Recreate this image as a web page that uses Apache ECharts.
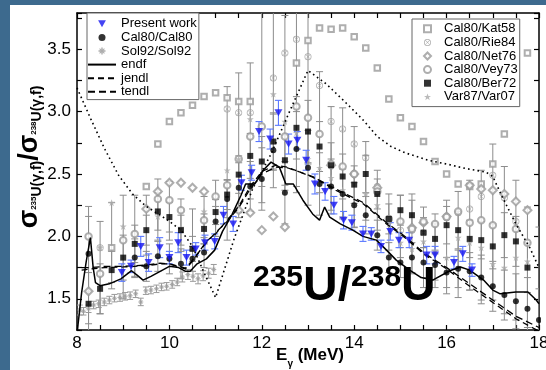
<!DOCTYPE html>
<html><head><meta charset="utf-8">
<script src="https://cdn.jsdelivr.net/npm/echarts@6/dist/echarts.min.js"></script>
<style>html,body{margin:0;padding:0;background:#ffffff;overflow:hidden}#c{width:546px;height:370px;position:absolute;left:0;top:0}</style>
</head><body><div id="c"></div>
<script>
// ---------- data ----------
var xTicks = [8, 10, 12, 14, 16, 18];
var yTicks = [1.5, 2.0, 2.5, 3.0, 3.5];

var presentE = [8.97,9.17,9.38,9.55,9.79,10.0,10.19,10.37,10.57,10.77,10.98,11.17,11.38,11.56,11.78,11.94,12.18,12.36,12.58,12.77,12.96,13.15,13.37,13.56,13.77,13.95,14.19,14.37,14.58,14.78,14.97,15.19,15.57,15.75,16.16,16.35,16.55];
var presentV = [1.71,1.76,1.92,1.79,1.91,1.83,1.95,1.83,1.90,1.95,1.96,2.17,2.10,2.43,2.51,2.84,2.78,2.99,2.74,2.77,2.61,2.42,2.36,2.25,2.13,2.11,2.02,2.02,1.92,2.04,1.97,1.97,1.85,1.85,1.79,1.86,1.73];
var presentErr = [0.07,0.05,0.08,0.07,0.08,0.05,0.08,0.06,0.05,0.06,0.06,0.07,0.06,0.06,0.06,0.08,0.08,0.10,0.08,0.07,0.08,0.08,0.07,0.07,0.07,0.06,0.06,0.05,0.05,0.07,0.06,0.06,0.07,0.07,0.05,0.06,0.05];

var cal80E = [8.25,9.25,9.5,9.75,10.0,10.25,10.5,10.75,11.0,11.25,11.5,11.75,12.0,12.25,12.5,12.75,13.0,13.25,13.5,13.75,14.0,14.25,14.5,14.75,15.0,15.25,15.5,15.75,16.0,16.25,16.5,16.75,17.0,17.25,17.5,17.75,18.0];
var cal80V = [1.86,1.83,1.76,1.84,1.82,1.78,1.82,1.87,2.12,2.30,2.39,2.40,2.46,2.69,2.35,2.70,2.55,2.42,2.40,2.34,2.25,2.17,2.01,1.83,1.79,1.83,1.79,1.77,1.71,1.74,1.72,1.67,1.60,1.53,1.48,1.42,1.33];
var cal80Err = [0.3,0.15,0.12,0.12,0.12,0.12,0.1,0.12,0.12,0.15,0.2,0.2,0.25,0.3,0.25,0.3,0.3,0.25,0.22,0.2,0.18,0.15,0.12,0.12,0.12,0.12,0.12,0.12,0.12,0.15,0.15,0.18,0.2,0.2,0.22,0.25,0.25];

var solE = [8.06,8.14,8.25,8.36,8.47,8.59,8.70,8.81,8.93,9.04,9.15,9.27,9.38,9.49,9.60,9.72,9.83,9.94,10.06,10.17,10.28,10.40,10.51,10.62,10.73,10.85,10.96];
var solV = [1.41,1.40,1.42,1.45,1.46,1.475,1.49,1.505,1.51,1.52,1.525,1.54,1.475,1.565,1.57,1.58,1.595,1.60,1.615,1.635,1.675,1.695,1.68,1.66,1.685,1.705,1.735];
var solErr = [0.04,0.03,0.03,0.03,0.03,0.03,0.03,0.03,0.03,0.03,0.03,0.03,0.03,0.03,0.03,0.03,0.03,0.03,0.03,0.03,0.04,0.04,0.04,0.04,0.04,0.04,0.04];

var endfE = [8.0,8.1,8.2,8.29,8.35,8.40,8.5,8.7,8.95,9.18,9.3,9.43,9.6,9.75,10.0,10.2,10.35,10.45,10.6,10.8,10.98,11.15,11.35,11.55,11.65,11.85,12.03,12.2,12.38,12.52,12.68,12.89,13.1,13.25,13.36,13.47,13.7,13.97,14.19,14.48,14.7,14.91,15.2,15.45,15.7,16.07,16.3,16.5,16.8,17.0,17.16,17.5,17.76,17.94,18.0];
var endfV = [1.22,1.55,1.80,1.99,1.75,1.63,1.605,1.62,1.66,1.725,1.69,1.65,1.68,1.71,1.76,1.75,1.72,1.72,1.78,1.82,1.89,2.04,2.17,2.33,2.42,2.42,2.53,2.595,2.555,2.42,2.42,2.29,2.18,2.13,2.235,2.155,2.10,2.05,2.0,1.97,1.89,1.81,1.73,1.67,1.65,1.725,1.755,1.73,1.65,1.57,1.54,1.555,1.555,1.49,1.46];

var jendlE = [8.1,8.3,8.6,9.0,9.5,9.8,10.0,10.2,10.35,10.5,10.8,11.0,11.25,11.5,11.75,12.0,12.3,12.55,13.1,13.6,14.2,14.7,15.1,15.5,16.0,16.5,17.0,17.5,18.0];
var jendlV = [1.73,1.74,1.75,1.755,1.765,1.78,1.78,1.755,1.74,1.80,1.96,2.02,2.13,2.24,2.40,2.52,2.57,2.555,2.475,2.37,2.26,2.10,1.99,1.86,1.74,1.60,1.47,1.34,1.24];
var tendlE = [8.1,8.3,8.6,9.0,9.5,9.8,10.0,10.2,10.35,10.5,10.8,11.0,11.25,11.5,11.75,12.0,12.3,12.55,13.1,13.6,14.2,14.7,15.1,15.5,16.0,16.5,17.0,17.5,18.0];
var tendlV = [1.75,1.75,1.76,1.76,1.77,1.785,1.78,1.76,1.745,1.81,1.95,2.03,2.12,2.23,2.38,2.50,2.555,2.55,2.48,2.38,2.27,2.11,2.0,1.87,1.75,1.62,1.49,1.36,1.27];

var dotE = [8.0,8.3,8.6,8.9,9.2,9.5,9.8,10.0,10.25,10.5,10.75,11.0,11.4,11.8,12.2,12.6,13.0,13.4,13.85,14.2,14.5,14.8,15.1,15.6,16.0,16.4,16.85,17.0,17.2,17.5,17.8,18.0];
var dotV = [3.19,2.94,2.70,2.49,2.34,2.24,2.17,2.12,2.05,1.92,1.71,1.51,1.98,2.38,2.66,3.00,3.33,3.22,3.06,2.93,2.80,2.72,2.67,2.61,2.58,2.545,2.515,2.48,2.32,2.10,1.91,1.75];

var katE = [8.75,9.5,9.75,10.0,10.25,10.5,10.75,11.0,11.25,11.5,11.75,12.75,13.0,13.25,13.5,13.75,14.0,14.25,14.5,14.75,15.0,15.25,15.5,15.75,16.0,16.25,16.5,16.75,17.0,17.25,17.5,17.75];
var katV = [1.91,2.40,2.74,2.92,2.99,3.05,3.12,3.15,3.11,3.08,3.08,3.39,3.57,3.67,3.66,3.67,3.60,3.51,3.35,3.10,2.95,2.88,2.76,2.60,2.50,2.42,2.40,2.42,2.58,2.82,3.08,3.47];

var rieE = [8.5,11.25,11.5,11.75,12.25,12.5,12.75,13.0,13.25,13.5,13.75,14.0,14.25,14.5,15.0,15.25,15.5,16.0,16.25,16.5,16.75,17.0,17.25,17.5];
var rieV = [1.91,3.02,2.99,2.99,3.27,3.47,3.58,3.44,3.21,2.92,2.86,2.74,2.63,2.40,2.05,2.05,2.03,2.15,2.19,2.22,2.32,2.49,2.31,2.12];

var netE = [8.25,9.5,9.75,10.0,10.25,10.5,10.75,11.5,11.75,12.0,12.25,12.5,13.5,14.0,14.5,15.25,15.5,16.0,16.5,16.75,17.0,17.25,17.5,17.75];
var netV = [1.56,2.22,2.36,2.43,2.43,2.39,2.36,2.21,2.19,2.05,2.16,2.075,2.57,2.50,2.39,2.07,2.11,2.16,2.41,2.38,2.37,2.34,2.28,2.21];

var veyE = [8.25,8.5,9.0,9.25,9.75,10.0,10.25,10.75,11.0,11.25,11.5,11.75,12.0,12.5,12.75,13.0,13.25,13.5,13.75,14.0,14.5,14.75,15.0,15.25,15.5,15.75,16.0,16.25,16.5,16.75,17.0,17.5,17.75];
var veyV = [2.00,1.70,1.97,2.02,2.30,2.29,2.21,2.13,2.32,2.41,2.62,2.80,2.88,2.80,3.04,2.95,2.82,2.58,2.56,2.50,2.36,2.14,2.12,2.06,2.12,2.10,2.155,2.20,2.11,2.13,2.09,2.06,1.95];

var berE = [8.25,8.5,8.75,9.0,9.25,9.5,9.75,10.0,10.25,10.5,10.75,11.0,11.25,11.5,11.75,12.0,12.25,12.5,12.75,13.0,13.25,13.5,13.75,14.0,14.25,14.5,14.75,15.0,15.25,15.5,15.75,16.0,16.25,16.5,16.75,17.0,17.25,17.5,17.75];
var berV = [1.46,1.58,1.73,1.83,1.94,2.05,2.20,2.155,2.05,1.90,2.06,2.195,2.335,2.495,2.645,2.60,2.76,2.61,2.87,2.84,2.72,2.57,2.48,2.415,2.50,2.34,2.14,2.21,2.17,2.03,1.98,2.09,2.05,1.98,1.97,1.92,2.01,1.96,1.75];
var berErr = [0.25,0.2,0.15,0.18,0.15,0.12,0.15,0.12,0.12,0.1,0.12,0.1,0.12,0.15,0.18,0.2,0.22,0.2,0.25,0.25,0.2,0.18,0.18,0.15,0.15,0.12,0.12,0.12,0.12,0.12,0.12,0.15,0.15,0.15,0.15,0.18,0.18,0.2,0.2];

var varE = [8.5,8.75,9.0,9.75,10.25,10.75,11.25,11.5,11.75,12.25,12.5,12.75,13.0,13.25,13.5,13.75,14.25,14.5,14.75,15.0,15.25,15.5,15.75,16.0,16.25,16.5,16.75,17.0,17.25,17.5,17.75];
var varV = [1.91,2.27,2.08,2.16,2.07,2.20,2.53,2.62,2.94,3.14,2.92,2.83,2.62,2.55,2.47,2.37,2.34,2.25,2.10,1.95,1.90,1.96,1.88,1.83,1.99,1.95,1.91,1.78,1.75,1.83,1.80];

var barE = [8.25,8.5,8.75,9.0,9.25,9.5,9.75,10.0,10.25,10.5,10.75,11.0,11.25,11.5,11.75,12.0,12.25,12.5,12.75,13.0,13.25,13.5,13.75,14.0,14.25,14.5,14.75,15.0,15.25,15.5,15.75,16.0,16.25,16.5,16.75,17.0,17.25,17.5,17.75,18.0];
var barLo = [1.30,1.38,1.63,1.50,1.67,1.85,1.97,1.97,1.88,1.89,1.94,2.00,1.97,2.15,2.30,2.27,2.53,2.37,2.35,2.58,2.35,2.21,2.155,2.075,2.13,2.05,1.89,1.83,1.70,1.59,1.59,1.54,1.51,1.57,1.46,1.49,1.38,1.33,1.27,1.22];
var barHi = [2.24,2.12,2.27,2.33,2.33,2.33,2.46,2.44,2.30,2.22,2.32,2.45,3.20,3.31,3.39,3.80,3.80,3.77,3.80,3.80,3.32,3.04,3.03,2.88,2.76,2.53,2.34,2.33,2.34,2.235,2.18,2.29,2.36,2.45,2.53,2.74,2.56,2.45,2.235,2.075];

// ---------- helpers ----------
function pairs(xs, ys){ return xs.map(function(x,i){ return [x, ys[i]]; }); }
function errs(xs, ys, es){ return xs.map(function(x,i){ return [x, ys[i]-es[i], ys[i]+es[i]]; }); }
function spans(xs, lo, hi){ return xs.map(function(x,i){ return [x, lo[i], hi[i]]; }); }
function errRender(cap, color, lw){
  return function(params, api){
    var x = api.value(0), lo = api.value(1), hi = api.value(2);
    var a = api.coord([x, hi]), b = api.coord([x, lo]);
    var st = {stroke: color, lineWidth: lw};
    return {type:'group', children:[
      {type:'line', shape:{x1:a[0],y1:a[1],x2:b[0],y2:b[1]}, style:st},
      {type:'line', shape:{x1:a[0]-cap,y1:a[1],x2:a[0]+cap,y2:a[1]}, style:st},
      {type:'line', shape:{x1:b[0]-cap,y1:b[1],x2:b[0]+cap,y2:b[1]}, style:st}
    ]};
  };
}
function errSeries(name, data, cap, color, lw){
  return {name:name, type:'custom', renderItem: errRender(cap,color,lw), data:data,
    encode:{x:0, y:[1,2]}, clip:true, silent:true, z:2};
}

var FONT = 'Liberation Sans';
var GREY = '#9a9a9a';
var FRAME_BLUE = '#3d6a8e';
var TRI = 'path://M0,0 L10,0 L5,9 Z';
var OTIMES = 'path://M10,0 A10,10 0 1,1 9.99,0 Z M10,2.2 A7.8,7.8 0 1,0 10.01,2.2 Z M4,5 L5,4 L10,9 L15,4 L16,5 L11,10 L16,15 L15,16 L10,11 L5,16 L4,15 L9,10 Z';
var STAR = 'path://M10,0 L12.4,7 L19.5,7 L13.8,11.4 L16,18.5 L10,14 L4,18.5 L6.2,11.4 L0.5,7 L7.6,7 Z';
var AST = 'path://M4,0 L6,0 L6,10 L4,10 Z M0,4 L10,4 L10,6 L0,6 Z M2,1 L9,8 L8,9 L1,2 Z M8,1 L9,2 L2,9 L1,8 Z';
var NOSYM = {color:'rgba(0,0,0,0)', borderColor:'rgba(0,0,0,0)', borderWidth:0};

function xLab(v){ return xTicks.indexOf(Math.round(v*1000)/1000) >= 0 ? String(v) : ''; }
function yLab(v){ var r = Math.round(v*1000)/1000; return yTicks.indexOf(r) >= 0 ? r.toFixed(1) : ''; }

var axisLineS = {show:true, lineStyle:{color:'#000', width:1.5}};
var tickS = {show:true, inside:true, length:5, lineStyle:{color:'#000', width:1.2}};

var chart = echarts.init(document.getElementById('c'), null, {renderer:'canvas'});
chart.setOption({
  backgroundColor: '#ffffff',
  animation: false,
  grid: {left:77, right:7, top:13, bottom:40, containLabel:false, outerBoundsMode:'none'},
  xAxis: [
    {type:'value', min:8, max:18, interval:0.5, position:'bottom',
     axisLine:axisLineS, axisTick:tickS, splitLine:{show:false},
     axisLabel:{formatter:xLab, color:'#000', fontSize:17, fontFamily:FONT, margin:5}},
    {type:'value', min:8, max:18, interval:0.5, position:'top',
     axisLine:axisLineS, axisTick:tickS, splitLine:{show:false}, axisLabel:{show:false}}
  ],
  yAxis: [
    {type:'value', min:1.25, max:3.79, interval:0.25, position:'left',
     axisLine:axisLineS, axisTick:tickS, splitLine:{show:false},
     axisLabel:{formatter:yLab, color:'#000', fontSize:17, fontFamily:FONT, margin:6}},
    {type:'value', min:1.25, max:3.79, interval:0.25, position:'right',
     axisLine:axisLineS, axisTick:tickS, splitLine:{show:false}, axisLabel:{show:false}}
  ],
  legend: [
    {data:['Present work','Cal80/Cal80','Sol92/Sol92',
           {name:'endf', itemStyle:NOSYM},{name:'jendl', itemStyle:NOSYM},{name:'tendl', itemStyle:NOSYM}],
     orient:'vertical', left:87, top:13, itemWidth:28, itemHeight:7, itemGap:0,
     padding:[4,2,1,0], borderColor:'#666', borderWidth:1, backgroundColor:'#fff',
     selectedMode:false,
     textStyle:{fontSize:13, fontFamily:FONT, color:'#000', lineHeight:13.6}},
    {data:['Cal80/Kat58','Cal80/Rie84','Cal80/Net76','Cal80/Vey73','Cal80/Ber72','Var87/Var07'],
     orient:'vertical', left:412, top:19, itemWidth:7, itemHeight:7, itemGap:0,
     padding:[3,2,3,11], borderColor:'#666', borderWidth:1, backgroundColor:'#fff',
     selectedMode:false,
     textStyle:{fontSize:13, fontFamily:FONT, color:'#000', lineHeight:13.6, padding:[0,0,0,8]}}
  ],
  graphic: [
    {type:'rect', z:-10, silent:true, shape:{x:0, y:0, width:10, height:370}, style:{fill:FRAME_BLUE}},
    {type:'rect', z:-10, silent:true, shape:{x:0, y:0, width:546, height:5}, style:{fill:FRAME_BLUE}},
    {type:'rect', z:50, silent:true, shape:{x:541, y:5, width:5, height:322}, style:{fill:'#ffffff'}},
    {type:'text', x:30, y:157, rotation:Math.PI/2, silent:true,
     style:{text:'{s|σ}{a|235}{b|U(γ,f)}{s|/σ}{a|238}{b|U(γ,f)}', align:'center', verticalAlign:'middle',
       rich:{
         s:{fontSize:27, fontWeight:'bold', fontFamily:FONT, fill:'#000', lineHeight:28},
         a:{fontSize:8, fontWeight:'bold', fontFamily:FONT, fill:'#000', verticalAlign:'bottom', lineHeight:8, padding:[0,0,6,0]},
         b:{fontSize:14, fontWeight:'bold', fontFamily:FONT, fill:'#000', verticalAlign:'bottom', lineHeight:14}
       }}},
    {type:'text', x:310, y:355, silent:true,
     style:{text:'{e|E}{g|γ}{e| (MeV)}', align:'center', verticalAlign:'middle',
       rich:{
         e:{fontSize:17, fontWeight:'bold', fontFamily:FONT, fill:'#000', lineHeight:20},
         g:{fontSize:10, fontWeight:'bold', fontFamily:FONT, fill:'#000', verticalAlign:'bottom', lineHeight:10, padding:[0,0,-4,0]}
       }}},
    {type:'text', x:253, y:263, z:100, silent:true,
     style:{text:'{a|235}{b|U/}{a|238}{b|U}', align:'left', verticalAlign:'top',
       rich:{
         a:{fontSize:30, fontWeight:'bold', fontFamily:FONT, fill:'#000', verticalAlign:'top', lineHeight:30},
         b:{fontSize:48, fontWeight:'bold', fontFamily:FONT, fill:'#000', verticalAlign:'top', lineHeight:44}
       }}}
  ],
  series: [
    errSeries('barsOuter', spans(barE, barLo, barHi), 3.5, '#8c8c8c', 1),
    errSeries('barsBer', errs(berE, berV, berErr), 3.5, '#8c8c8c', 1),
    errSeries('barsCal', errs(cal80E, cal80V, cal80Err), 3.5, '#8c8c8c', 1),
    errSeries('barsSol', errs(solE, solV, solErr), 3, '#9a9a9a', 1),
    {name:'Cal80/Kat58', type:'scatter', symbol:'emptyRect', symbolSize:5.5, data:pairs(katE,katV), itemStyle:{color:GREY, borderWidth:0.8}, z:3},
    {name:'Cal80/Rie84', type:'scatter', symbol:OTIMES, symbolSize:7, data:pairs(rieE,rieV), itemStyle:{color:'#999'}, z:3},
    {name:'Cal80/Net76', type:'scatter', symbol:'emptyDiamond', symbolSize:8, data:pairs(netE,netV), itemStyle:{color:GREY, borderWidth:0.8}, z:3},
    {name:'Cal80/Vey73', type:'scatter', symbol:'emptyCircle', symbolSize:6.5, data:pairs(veyE,veyV), itemStyle:{color:GREY, borderWidth:0.8}, z:3},
    {name:'Var87/Var07', type:'scatter', symbol:STAR, symbolSize:7, data:pairs(varE,varV), itemStyle:{color:'#aaa'}, z:3},
    {name:'Sol92/Sol92', type:'scatter', symbol:AST, symbolSize:5, data:pairs(solE,solV), itemStyle:{color:'#999'}, z:3},
    {name:'dotted', type:'line', data:pairs(dotE,dotV), symbol:'none', lineStyle:{color:'#000', width:1.6, type:[1.6,3.2]}, z:4},
    {name:'endf', type:'line', data:pairs(endfE,endfV), symbol:'none', itemStyle:{color:'#000'}, lineStyle:{color:'#000', width:1.5}, z:4},
    {name:'jendl', type:'line', data:pairs(jendlE,jendlV), symbol:'none', itemStyle:{color:'#000'}, lineStyle:{color:'#000', width:1.3, type:[6,4]}, z:4},
    {name:'tendl', type:'line', data:pairs(tendlE,tendlV), symbol:'none', itemStyle:{color:'#000'}, lineStyle:{color:'#000', width:1.3, type:[7,4]}, z:4},
    {name:'Cal80/Ber72', type:'scatter', symbol:'rect', symbolSize:6, data:pairs(berE,berV), itemStyle:{color:'#000'}, z:5},
    {name:'Cal80/Cal80', type:'scatter', symbol:'circle', symbolSize:6, data:pairs(cal80E,cal80V), itemStyle:{color:'#000'}, z:5},
    errSeries('barsPresent', errs(presentE, presentV, presentErr), 3.5, '#5a78ff', 1.1),
    {name:'Present work', type:'scatter', symbol:TRI, symbolSize:[8,7], data:pairs(presentE,presentV), itemStyle:{color:'#1414f0'}, z:6}
  ]
});
</script></body></html>
